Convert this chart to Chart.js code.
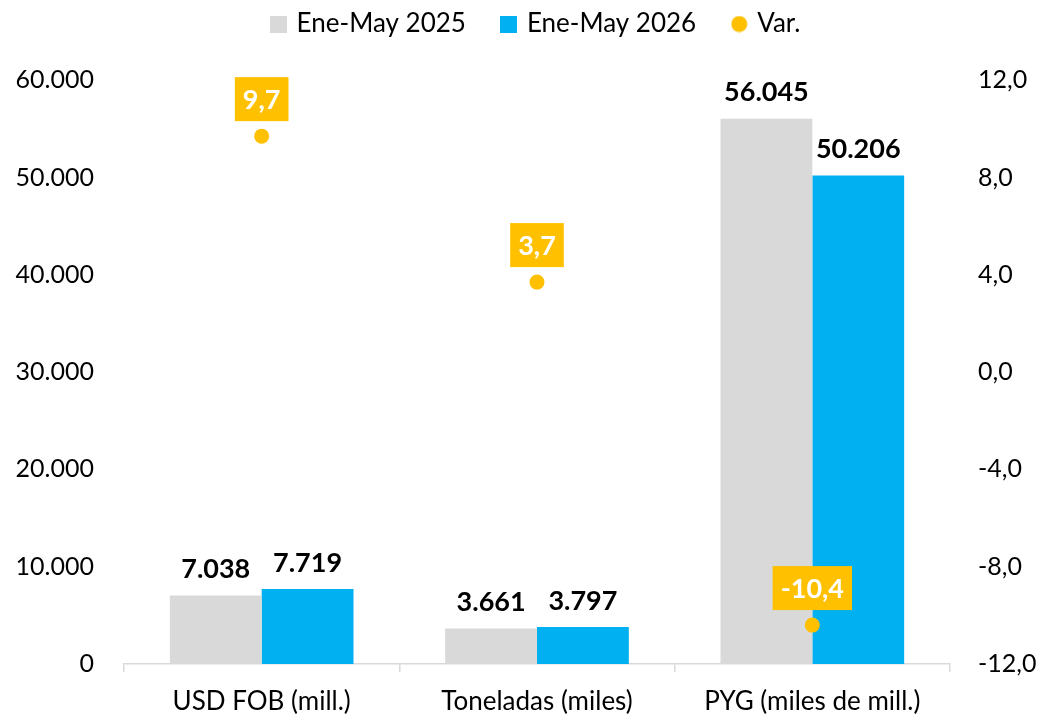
<!DOCTYPE html>
<html>
<head>
<meta charset="utf-8">
<script src="https://cdn.jsdelivr.net/npm/chart.js@4/dist/chart.umd.min.js"></script>
<style>
html,body{margin:0;padding:0;background:#fff;}
#wrap{width:1043px;height:718px;position:relative;}
</style>
</head>
<body>
<div id="wrap"><canvas id="c" width="1043" height="718"></canvas></div>
<script>
const categories = ["USD FOB (mill.)", "Toneladas (miles)", "PYG (miles de mill.)"];
const seriesNames = ["Ene-May 2025", "Ene-May 2026", "Var."];
const values2025 = [7038, 3661, 56045];
const values2026 = [7719, 3797, 50206];
const variation = [9.7, 3.7, -10.4];
const leftTicks = [0, 10000, 20000, 30000, 40000, 50000, 60000];
const rightTicks = [-12, -8, -4, 0, 4, 8, 12];

const COL_2025 = "#D9D9D9";
const COL_2026 = "#00B0F0";
const COL_VAR = "#FFC000";

const FONT = "Lato, 'Open Sans', sans-serif";
const fmtThousands = v => Math.round(v).toString().replace(/\B(?=(\d{3})+(?!\d))/g, ".");
const fmtDec = v => v.toFixed(1).replace(".", ",");

function markerImage(kind, color) {
  const c = document.createElement("canvas");
  c.width = 17; c.height = 17;
  const g = c.getContext("2d");
  g.fillStyle = color;
  if (kind === "rect") g.fillRect(0, 0, 17, 17);
  else { g.beginPath(); g.arc(8.5, 8.5, 8, 0, Math.PI * 2); g.fill(); }
  return c;
}

const labelPlugin = {
  id: "valueLabels",
  afterDatasetsDraw(chart) {
    const ctx = chart.ctx;
    ctx.save();
    chart.data.datasets.forEach((ds, i) => {
      const meta = chart.getDatasetMeta(i);
      if (meta.hidden) return;
      meta.data.forEach((el, j) => {
        const v = ds.data[j];
        if (ds.type === "bar") {
          ctx.font = "bold 27px " + FONT;
          ctx.fillStyle = "#000";
          ctx.textAlign = "center";
          ctx.textBaseline = "middle";
          ctx.fillText(fmtThousands(v), el.x, el.y - 26);
        } else {
          const txt = fmtDec(v);
          ctx.font = "bold 27px " + FONT;
          const w = ctx.measureText(txt).width + 16;
          const h = 44;
          const bottom = el.y - 15;
          ctx.fillStyle = COL_VAR;
          ctx.fillRect(el.x - w / 2, bottom - h, w, h);
          ctx.fillStyle = "#fff";
          ctx.textAlign = "center";
          ctx.textBaseline = "middle";
          ctx.fillText(txt, el.x, bottom - h / 2 + 1);
        }
      });
    });
    ctx.restore();
  }
};

new Chart(document.getElementById("c"), {
  data: {
    labels: categories,
    datasets: [
      { type: "bar", label: seriesNames[0], data: values2025, backgroundColor: COL_2025, yAxisID: "y", order: 1,
        categoryPercentage: 0.667, barPercentage: 1.0 },
      { type: "bar", label: seriesNames[1], data: values2026, backgroundColor: COL_2026, yAxisID: "y", order: 1,
        categoryPercentage: 0.667, barPercentage: 1.0 },
      { type: "line", label: seriesNames[2], data: variation, yAxisID: "y1", order: 0, showLine: false,
        pointStyle: "circle", pointRadius: 7.5, pointHoverRadius: 7.5,
        backgroundColor: COL_VAR, borderColor: COL_VAR, pointBorderWidth: 0 }
    ]
  },
  options: {
    responsive: false,
    animation: false,
    layout: { padding: { top: -27, left: 0, right: 0, bottom: 0 } },
    plugins: {
      tooltip: { enabled: false },
      title: { display: true, text: " ", weight: 500, font: { size: 1 }, padding: { top: 32, bottom: 0 } },
      legend: {
        position: "top",
        fullSize: false,
        labels: {
          usePointStyle: true,
          boxWidth: 10, boxHeight: 17,
          color: "#000",
          font: { family: FONT, size: 26 },
          padding: 38,
          sort: (a, b) => a.datasetIndex - b.datasetIndex,
          generateLabels(chart) {
            const items = Chart.defaults.plugins.legend.labels.generateLabels(chart);
            const imgs = [markerImage("rect", COL_2025), markerImage("rect", COL_2026), markerImage("circle", COL_VAR)];
            items.forEach(it => { it.pointStyle = imgs[it.datasetIndex]; it.lineWidth = 0; });
            return items;
          }
        }
      }
    },
    scales: {
      x: {
        grid: { offset: true, drawOnChartArea: false, tickLength: 8, color: "#D9D9D9", lineWidth: 1.5 },
        border: { color: "#D9D9D9", width: 1.5 },
        ticks: { color: "#000", font: { family: FONT, size: 26 }, padding: 14 },
        afterFit(s) { s.height = 54; }
      },
      y: {
        position: "left", min: 0, max: 60000,
        afterBuildTicks(s) { s.ticks = leftTicks.map(v => ({ value: v })); },
        grid: { display: false, drawTicks: false }, border: { display: false },
        ticks: { color: "#000", font: { family: FONT, size: 25 }, padding: 30, callback: v => fmtThousands(v) },
        afterFit(s) { s.width = 124; }
      },
      y1: {
        position: "right", min: -12, max: 12,
        afterBuildTicks(s) { s.ticks = rightTicks.map(v => ({ value: v })); },
        grid: { display: false, drawTicks: false }, border: { display: false },
        ticks: { color: "#000", font: { family: FONT, size: 25 }, padding: 28, callback: v => fmtDec(v) },
        afterFit(s) { s.width = 93; }
      }
    }
  },
  plugins: [labelPlugin]
});
</script>
</body>
</html>
